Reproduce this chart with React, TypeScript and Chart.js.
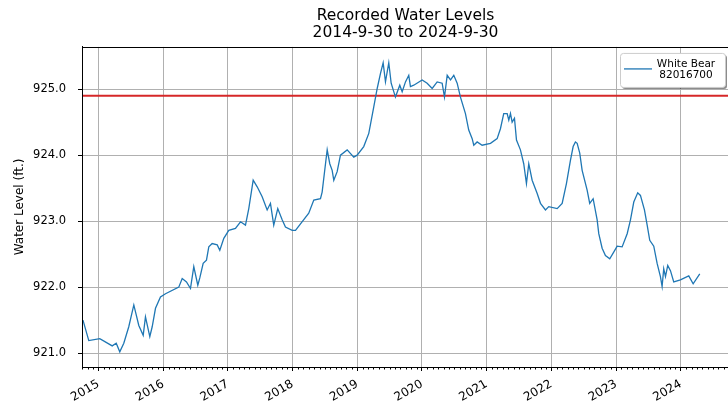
import { useEffect, useRef } from "react";
import { Chart, registerables } from "chart.js";

Chart.register(...registerables);

// ---- Data (decimal years / water level in ft) ----
const years = [
  2014.76, 2014.85, 2015.02, 2015.212, 2015.274, 2015.329, 2015.391, 2015.468, 2015.546, 2015.623,
  2015.691, 2015.726, 2015.793, 2015.83, 2015.881, 2015.958, 2016.036, 2016.241, 2016.294, 2016.36,
  2016.422, 2016.473, 2016.535, 2016.566, 2016.618, 2016.669, 2016.705, 2016.757, 2016.835, 2016.875,
  2016.937, 2017.014, 2017.117, 2017.195, 2017.272, 2017.323, 2017.391, 2017.453, 2017.53, 2017.607,
  2017.658, 2017.709, 2017.771, 2017.839, 2017.89, 2017.994, 2018.045, 2018.25, 2018.328, 2018.431,
  2018.457, 2018.509, 2018.535, 2018.575, 2018.612, 2018.637, 2018.689, 2018.74, 2018.844, 2018.946,
  2018.998, 2019.1, 2019.178, 2019.255, 2019.308, 2019.359, 2019.4, 2019.436, 2019.487, 2019.524,
  2019.59, 2019.657, 2019.694, 2019.745, 2019.796, 2019.822, 2019.873, 2020.003, 2020.08, 2020.158,
  2020.235, 2020.312, 2020.348, 2020.39, 2020.441, 2020.492, 2020.544, 2020.595, 2020.672, 2020.723,
  2020.776, 2020.801, 2020.853, 2020.93, 2021.059, 2021.162, 2021.213, 2021.264, 2021.317, 2021.342,
  2021.368, 2021.394, 2021.43, 2021.461, 2021.522, 2021.573, 2021.615, 2021.651, 2021.703, 2021.781,
  2021.832, 2021.909, 2021.96, 2022.09, 2022.167, 2022.233, 2022.295, 2022.337, 2022.372, 2022.399,
  2022.439, 2022.476, 2022.553, 2022.593, 2022.646, 2022.708, 2022.733, 2022.785, 2022.836, 2022.903,
  2022.964, 2023.017, 2023.094, 2023.172, 2023.223, 2023.274, 2023.335, 2023.377, 2023.439, 2023.481,
  2023.521, 2023.583, 2023.635, 2023.686, 2023.712, 2023.737, 2023.764, 2023.799, 2023.841, 2023.892,
  2023.995, 2024.124, 2024.192, 2024.294,
];
const levels = [
  921.5, 921.19, 921.22, 921.11, 921.15, 921.02, 921.15, 921.4, 921.73, 921.42,
  921.27, 921.55, 921.25, 921.4, 921.68, 921.85, 921.9, 922.0, 922.13, 922.08,
  921.98, 922.31, 922.03, 922.14, 922.36, 922.41, 922.61, 922.66, 922.64, 922.56,
  922.74, 922.86, 922.89, 922.99, 922.94, 923.19, 923.62, 923.52, 923.37, 923.17,
  923.27, 922.94, 923.19, 923.02, 922.91, 922.86, 922.86, 923.12, 923.32, 923.34,
  923.44, 923.87, 924.08, 923.87, 923.77, 923.62, 923.75, 924.0, 924.08, 923.97,
  924.0, 924.13, 924.33, 924.73, 925.01, 925.24, 925.4, 925.11, 925.4, 925.09,
  924.88, 925.06, 924.96, 925.11, 925.21, 925.04, 925.06, 925.14, 925.09, 925.01,
  925.11, 925.09, 924.88, 925.21, 925.14, 925.21, 925.09, 924.88, 924.63, 924.38,
  924.25, 924.15, 924.2, 924.15, 924.18, 924.25, 924.4, 924.63, 924.63, 924.53,
  924.63, 924.5, 924.56, 924.23, 924.08, 923.87, 923.57, 923.87, 923.62, 923.42,
  923.27, 923.17, 923.22, 923.19, 923.27, 923.57, 923.92, 924.13, 924.2, 924.18,
  924.03, 923.77, 923.47, 923.27, 923.34, 923.02, 922.81, 922.59, 922.48, 922.43,
  922.53, 922.62, 922.61, 922.81, 923.02, 923.29, 923.43, 923.39, 923.17, 922.94,
  922.71, 922.62, 922.36, 922.16, 922.01, 922.28, 922.16, 922.33, 922.25, 922.08,
  922.11, 922.17, 922.05, 922.2,
];
const yearTicks = [2015, 2016, 2017, 2018, 2019, 2020, 2021, 2022, 2023, 2024];
const levelTicks = [921, 922, 923, 924, 925];
const referenceLevel = 924.9;
const xStart = 2014.745;
const xEnd = 2024.746;
const yMin = 920.79;
const yMax = 925.64;
const titleLines = ["Recorded Water Levels", "2014-9-30 to 2024-9-30"];
const legendLines = ["White Bear", "82016700"];
const yAxisTitle = "Water Level (ft.)";

const FONT = "'DejaVu Sans', sans-serif";
const BLUE = "#1f77b4";

const decorPlugin = {
  id: "decor",
  afterDraw(chart: any) {
    const { ctx, chartArea: a, scales } = chart;
    const xs = scales.x;
    ctx.save();
    // frame
    ctx.strokeStyle = "#000";
    ctx.lineWidth = 1;
    ctx.strokeRect(Math.round(a.left) + 0.5, Math.round(a.top) + 0.5, Math.round(a.right - a.left) - 1, Math.round(a.bottom - a.top));
    // minor monthly ticks
    ctx.beginPath();
    for (let k = 0; k <= 121; k++) {
      const v = 2014.75 + k / 12;
      if (v > xEnd) break;
      if (Math.abs(v - Math.round(v)) < 1e-6) continue;
      const px = Math.round(xs.getPixelForValue(v)) + 0.5;
      ctx.moveTo(px, a.bottom);
      ctx.lineTo(px, a.bottom + 2.5);
    }
    ctx.stroke();
    // legend
    const bw = 105;
    const bh = 34;
    const bx = a.right - 4 - bw;
    const by = a.top + 6;
    ctx.fillStyle = "rgba(0,0,0,0.45)";
    ctx.beginPath();
    ctx.roundRect(bx + 2, by + 2, bw, bh, 3);
    ctx.fill();
    ctx.fillStyle = "#fff";
    ctx.strokeStyle = "#cccccc";
    ctx.beginPath();
    ctx.roundRect(bx + 0.5, by + 0.5, bw, bh, 3);
    ctx.fill();
    ctx.stroke();
    ctx.strokeStyle = BLUE;
    ctx.lineWidth = 1.3;
    ctx.beginPath();
    ctx.moveTo(bx + 4, by + 16);
    ctx.lineTo(bx + 32, by + 16);
    ctx.stroke();
    ctx.fillStyle = "#000";
    ctx.font = `10.5px ${FONT}`;
    ctx.textAlign = "center";
    ctx.textBaseline = "middle";
    ctx.fillText(legendLines[0], bx + 66, by + 11);
    ctx.fillText(legendLines[1], bx + 66, by + 22);
    ctx.restore();
  },
};

export default function App() {
  const ref = useRef<HTMLCanvasElement>(null);
  useEffect(() => {
    document.body.style.margin = "0";
    const canvas = ref.current!;
    const chart = new Chart(canvas, {
      type: "line",
      data: {
        datasets: [
          {
            label: legendLines.join(" "),
            data: years.map((x, i) => ({ x, y: levels[i] })),
            borderColor: BLUE,
            borderWidth: 1.3,
            pointRadius: 0,
            tension: 0,
            fill: false,
          },
          {
            label: "reference",
            data: [
              { x: xStart, y: referenceLevel },
              { x: xEnd, y: referenceLevel },
            ],
            borderColor: "#d62728",
            borderWidth: 2,
            pointRadius: 0,
            fill: false,
          },
        ],
      },
      options: {
        responsive: false,
        animation: false,
        layout: { padding: { left: 0, right: 3, top: 0, bottom: 0 } },
        plugins: {
          legend: { display: false },
          tooltip: { enabled: false },
          title: {
            display: true,
            text: titleLines,
            fullSize: false,
            color: "#000",
            font: { family: FONT, size: 15.5, weight: "normal", lineHeight: 1.12 },
            padding: { top: 7.2, bottom: 5 },
          },
        },
        scales: {
          x: {
            type: "linear",
            min: xStart,
            max: xEnd,
            afterBuildTicks: (s: any) => {
              s.ticks = yearTicks.map((v) => ({ value: v }));
            },
            afterFit: (s: any) => {
              s.height = 37;
            },
            ticks: {
              autoSkip: false,
              minRotation: 30,
              maxRotation: 30,
              color: "#000",
              padding: 6,
              font: { family: FONT, size: 12 },
              callback: (v: any) => String(v),
            },
            grid: { color: "#b0b0b0", tickColor: "#000", tickLength: 4, lineWidth: 1 },
            border: { color: "#000" },
          },
          y: {
            type: "linear",
            min: yMin,
            max: yMax,
            afterBuildTicks: (s: any) => {
              s.ticks = levelTicks.map((v) => ({ value: v }));
            },
            afterFit: (s: any) => {
              s.width = 82;
            },
            ticks: {
              color: "#000",
              padding: 12,
              font: { family: FONT, size: 11.5 },
              callback: (v: any) => Number(v).toFixed(1),
            },
            grid: { color: "#b0b0b0", tickColor: "#000", tickLength: 4, lineWidth: 1 },
            border: { color: "#000" },
            title: {
              display: true,
              text: yAxisTitle,
              color: "#000",
              font: { family: FONT, size: 12 },
              padding: { top: 13, bottom: 0 },
            },
          },
        },
      },
      plugins: [decorPlugin],
    });
    return () => chart.destroy();
  }, []);
  return (
    <div style={{ width: 728, height: 404, overflow: "hidden", position: "relative" }}>
      <canvas ref={ref} width={732} height={404} style={{ display: "block" }} />
    </div>
  );
}
